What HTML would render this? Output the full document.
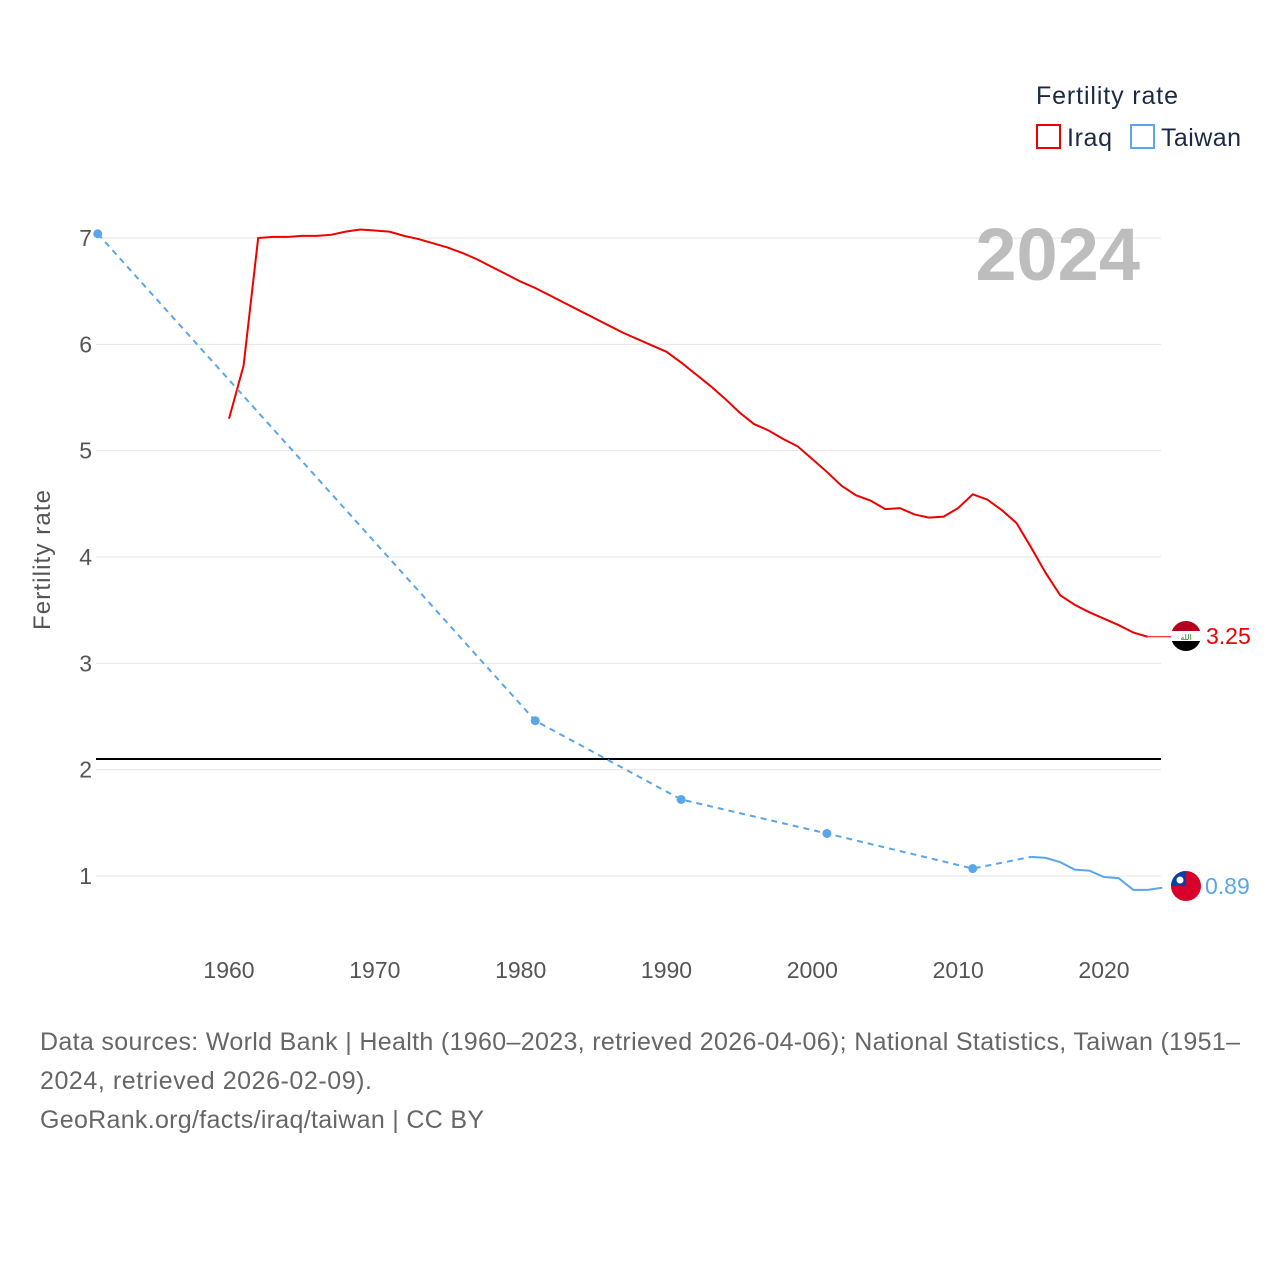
<!DOCTYPE html>
<html><head><meta charset="utf-8"><style>
body{margin:0;background:#fff;font-family:"Liberation Sans",sans-serif}
svg text{font-family:"Liberation Sans",sans-serif}
</style></head><body>
<svg id="c" width="1280" height="1280">
<defs>
<clipPath id="ci"><circle cx="1186" cy="636" r="15"/></clipPath>
<clipPath id="ct"><circle cx="1186" cy="886" r="15"/></clipPath>
</defs>
<g id="grid"></g>
<g id="marks"></g>
<text x="1140" y="280" text-anchor="end" font-size="74" font-weight="bold" fill="#bdbdbd">2024</text>
<text x="1036" y="104" font-size="25" fill="#1a2a44" textLength="142">Fertility rate</text>
<g><rect x="1037" y="125" width="23" height="23" fill="none" stroke="#ee0000" stroke-width="2"/><text x="1067" y="146" font-size="25" fill="#1a2a44" textLength="45">Iraq</text></g>
<g><rect x="1131" y="125" width="23" height="23" fill="none" stroke="#5aa6ea" stroke-width="2"/><text x="1161" y="146" font-size="25" fill="#1a2a44" textLength="80">Taiwan</text></g>
<text transform="translate(50,560) rotate(-90)" text-anchor="middle" font-size="24" fill="#555" textLength="140">Fertility rate</text>
<g clip-path="url(#ci)"><rect x="1170" y="620" width="32" height="11" fill="#b3001e"/><rect x="1170" y="631" width="32" height="10" fill="#fff"/><rect x="1170" y="641" width="32" height="11" fill="#000"/><text x="1186" y="640" text-anchor="middle" font-size="8" fill="#2a7a2a">الله</text></g>
<g clip-path="url(#ct)"><rect x="1170" y="870" width="32" height="32" fill="#d7002a"/><rect x="1170" y="870" width="16" height="16" fill="#0043a6"/><circle cx="1180" cy="880" r="3.5" fill="#fff"/></g>
<text x="1206" y="644" font-size="23" fill="#ee0000">3.25</text>
<text x="1205" y="894" font-size="23" fill="#5aa6ea">0.89</text>
<text x="40" y="1050" font-size="25" fill="#666" textLength="1200">Data sources: World Bank | Health (1960–2023, retrieved 2026-04-06); National Statistics, Taiwan (1951–</text>
<text x="40" y="1089" font-size="25" fill="#666" textLength="332">2024, retrieved 2026-02-09).</text>
<text x="40" y="1128" font-size="25" fill="#666" textLength="444">GeoRank.org/facts/iraq/taiwan | CC BY</text>
</svg>
<script>
const yTicks=[1,2,3,4,5,6,7];
const xTicks=[1960,1970,1980,1990,2000,2010,2020];
const iraqYears=[1960,1961,1962,1963,1964,1965,1966,1967,1968,1969,1970,1971,1972,1973,1974,1975,1976,1977,1978,1979,1980,1981,1982,1983,1984,1985,1986,1987,1988,1989,1990,1991,1992,1993,1994,1995,1996,1997,1998,1999,2000,2001,2002,2003,2004,2005,2006,2007,2008,2009,2010,2011,2012,2013,2014,2015,2016,2017,2018,2019,2020,2021,2022,2023];
const iraqValues=[5.3,5.8,7.0,7.01,7.01,7.02,7.02,7.03,7.06,7.08,7.07,7.06,7.02,6.99,6.95,6.91,6.86,6.8,6.73,6.66,6.59,6.53,6.46,6.39,6.32,6.25,6.18,6.11,6.05,5.99,5.93,5.83,5.72,5.61,5.49,5.36,5.25,5.19,5.11,5.04,4.92,4.8,4.67,4.58,4.53,4.45,4.46,4.4,4.37,4.38,4.46,4.59,4.54,4.44,4.32,4.09,3.85,3.64,3.55,3.48,3.42,3.36,3.29,3.25];
const twSparseYears=[1951,1981,1991,2001,2011,2015];
const twSparseValues=[7.04,2.46,1.72,1.40,1.07,1.18];
const twYears=[2015,2016,2017,2018,2019,2020,2021,2022,2023,2024];
const twValues=[1.18,1.17,1.13,1.06,1.05,0.99,0.98,0.87,0.87,0.89];
const replacement=2.1;
const X=y=>229+(y-1960)*875/60;
const Y=v=>876-(v-1)*638/6;
const NS="http://www.w3.org/2000/svg";
const grid=document.getElementById('grid'),marks=document.getElementById('marks');
function mk(tag,attrs,parent){const e=document.createElementNS(NS,tag);for(const k in attrs)e.setAttribute(k,attrs[k]);parent.appendChild(e);return e;}
yTicks.forEach(t=>{
 const l=mk('line',{x1:96,x2:1161,y1:Y(t),y2:Y(t),stroke:'#e6e6e6','stroke-width':1},grid);
 
 
 const tx=mk('text',{x:92,y:Y(t)+8,'text-anchor':'end','font-size':23,fill:'#555'},grid);
 tx.textContent=t;
 
 
});
xTicks.forEach(t=>{
 const tx=mk('text',{x:X(t),y:978,'text-anchor':'middle','font-size':23,fill:'#555'},grid);
 tx.textContent=t;
 
 
});
const rl=mk('line',{x1:96,x2:1161,y1:Y(replacement),y2:Y(replacement),stroke:'#000','stroke-width':2},marks);


const pts=(ys,vs)=>ys.map((y,i)=>X(y)+','+Y(vs[i])).join(' ');
const ip=mk('polyline',{points:pts(iraqYears,iraqValues),fill:'none',stroke:'#ee0000','stroke-width':2},marks);


const il=iraqValues[iraqValues.length-1];
const ie=mk('line',{x1:X(iraqYears[iraqYears.length-1]),x2:1172,y1:Y(il),y2:Y(il),stroke:'#ee0000','stroke-width':1},marks);


const td=mk('polyline',{points:pts(twSparseYears,twSparseValues),fill:'none',stroke:'#5aa6ea','stroke-width':2,'stroke-dasharray':'6,5'},marks);


const ts=mk('polyline',{points:pts(twYears,twValues),fill:'none',stroke:'#5aa6ea','stroke-width':2},marks);


twSparseYears.slice(0,5).forEach((y,i)=>{
 const c=mk('circle',{cx:X(y),cy:Y(twSparseValues[i]),r:4.5,fill:'#5aa6ea'},marks);
 
 
});
</script>
</body></html>
